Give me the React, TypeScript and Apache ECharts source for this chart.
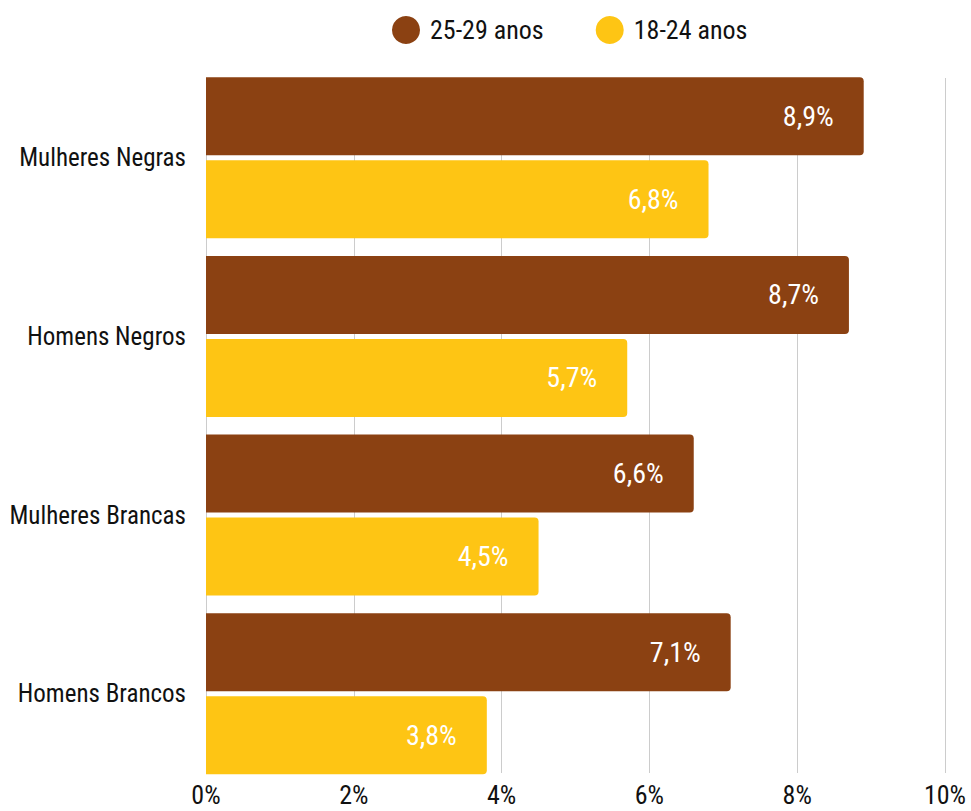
import React, { useEffect, useRef } from "react";
import * as echarts from "echarts";

const categories = ["Mulheres Negras", "Homens Negros", "Mulheres Brancas", "Homens Brancos"];
const series2529 = [8.9, 8.7, 6.6, 7.1];
const series1824 = [6.8, 5.7, 4.5, 3.8];
const seriesNames = ["25-29 anos", "18-24 anos"];
const colors = ["#8B4112", "#FEC514"];

const FONT = '"Roboto Condensed", "Roboto", sans-serif';

export default function App() {
  const ref = useRef<HTMLDivElement>(null);
  useEffect(() => {
    const chart = echarts.init(ref.current!, null, { renderer: "svg" });
    const fmt = (p: any) => String(p.value).replace(".", ",") + "%";
    chart.setOption({
      animation: false,
      textStyle: { fontFamily: FONT },
      legend: {
        top: 11,
        left: 387,
        itemWidth: 28,
        itemHeight: 28,
        itemGap: 52,
        icon: "circle",
        textStyle: { fontSize: 26, color: "#111", fontFamily: FONT, padding: [0, 0, 0, 5] },
        data: seriesNames,
      },
      grid: [
        { left: 206, right: 26, top: 68.5, bottom: 28, outerBoundsMode: "none" },
        { left: 206, right: 26, top: 78, bottom: 38, outerBoundsMode: "none" },
      ],
      xAxis: [
        {
          gridIndex: 0,
          type: "value",
          min: 0,
          max: 10,
          interval: 2,
          show: false,
        },
        {
          gridIndex: 1,
          type: "value",
          min: 0,
          max: 10,
          interval: 2,
          axisLine: { show: false },
          axisTick: { show: false },
          splitLine: { show: true, lineStyle: { color: "#cccccc", width: 1 } },
          axisLabel: {
            formatter: "{value}%",
            fontSize: 26,
            color: "#111",
            margin: 9,
            fontFamily: FONT,
          },
        },
      ],
      yAxis: [
        {
          gridIndex: 0,
          type: "category",
          inverse: true,
          data: categories,
          axisLine: { show: false },
          axisTick: { show: false },
          axisLabel: { fontSize: 25, color: "#111", margin: 20, fontFamily: FONT },
        },
        {
          gridIndex: 1,
          type: "category",
          data: [""],
          show: false,
        },
      ],
      series: [
        {
          name: seriesNames[0],
          type: "bar",
          xAxisIndex: 0,
          yAxisIndex: 0,
          data: series2529,
          barWidth: 78,
          barGap: "6.4%",
          z: 3,
          itemStyle: { color: colors[0], borderRadius: [0, 4, 4, 0] },
          label: {
            show: true,
            position: "insideRight",
            distance: 30,
            color: "#fff",
            fontSize: 28,
            fontFamily: FONT,
            formatter: fmt,
          },
        },
        {
          name: seriesNames[1],
          type: "bar",
          xAxisIndex: 0,
          yAxisIndex: 0,
          data: series1824,
          barWidth: 78,
          z: 3,
          itemStyle: { color: colors[1], borderRadius: [0, 4, 4, 0] },
          label: {
            show: true,
            position: "insideRight",
            distance: 30,
            color: "#fff",
            fontSize: 28,
            fontFamily: FONT,
            formatter: fmt,
          },
        },
      ],
    });
    return () => chart.dispose();
  }, []);
  return <div ref={ref} style={{ width: 971, height: 811, position: "absolute", left: 0, top: 0 }} />;
}
